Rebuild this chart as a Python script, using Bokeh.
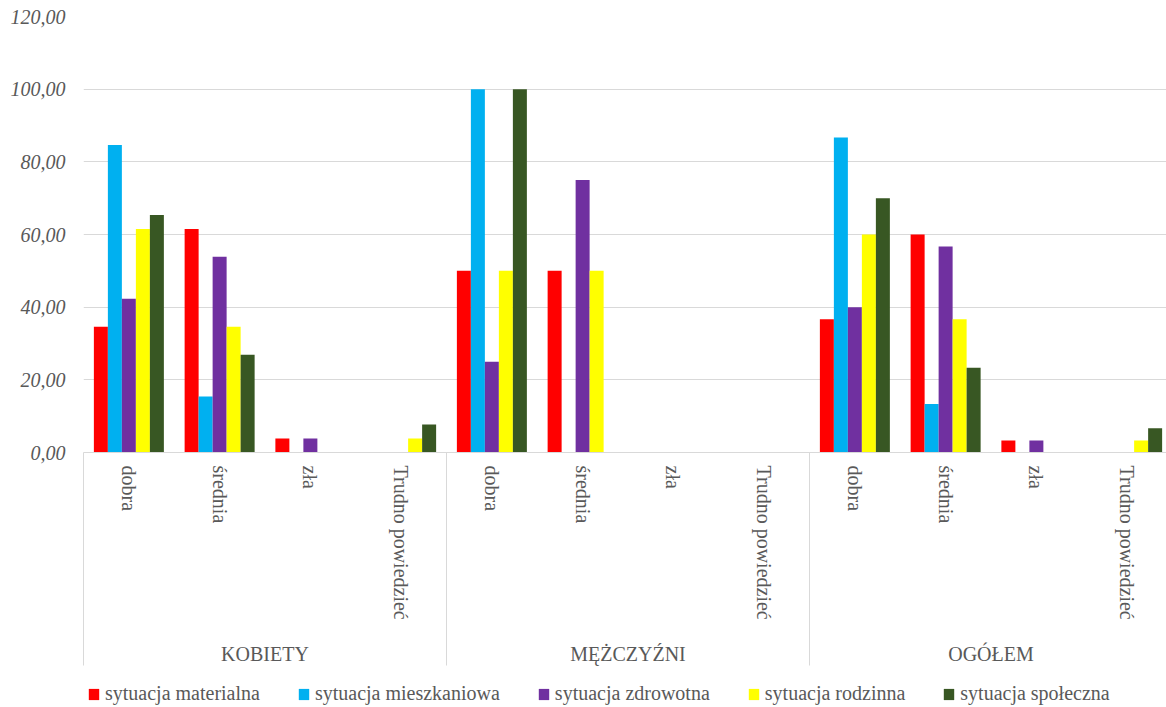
from bokeh.plotting import figure
from bokeh.models import (ColumnDataSource, Range1d, FixedTicker, LinearAxis,
                          Legend, LegendItem)
from bokeh.layouts import column
from bokeh.transform import dodge
from bokeh.embed import file_html
from bokeh.resources import INLINE

# ---------------- data ----------------
groups = ["KOBIETY", "MĘŻCZYŹNI", "OGÓŁEM"]
categories = ["dobra", "średnia", "zła", "Trudno powiedzieć"]
series_names = ["sytuacja materialna", "sytuacja mieszkaniowa", "sytuacja zdrowotna",
                "sytuacja rodzinna", "sytuacja społeczna"]
materialna = [34.62, 61.54, 3.85, 0.00, 50.00, 50.00, 0.00, 0.00, 36.67, 60.00, 3.33, 0.00]
mieszkaniowa = [84.62, 15.38, 0.00, 0.00, 100.00, 0.00, 0.00, 0.00, 86.67, 13.33, 0.00, 0.00]
zdrowotna = [42.31, 53.85, 3.85, 0.00, 25.00, 75.00, 0.00, 0.00, 40.00, 56.67, 3.33, 0.00]
rodzinna = [61.54, 34.62, 0.00, 3.85, 50.00, 50.00, 0.00, 0.00, 60.00, 36.67, 0.00, 3.33]
spoleczna = [65.38, 26.92, 0.00, 7.69, 100.00, 0.00, 0.00, 0.00, 70.00, 23.33, 0.00, 6.67]
y_ticks = [0, 20, 40, 60, 80, 100, 120]
y_tick_labels = ["0,00", "20,00", "40,00", "60,00", "80,00", "100,00", "120,00"]

# ---------------- styling ----------------
colors = ["#FF0000", "#00B0F0", "#7030A0", "#FFFF00", "#385723"]
FONT = "Liberation Serif"
TXT = "#595959"
GRID = "#d9d9d9"

n_cat = len(groups) * len(categories)
cat_labels = [c for g in groups for c in categories]
xs = list(range(1, n_cat + 1))

src = ColumnDataSource(dict(x=xs, s0=materialna, s1=mieszkaniowa, s2=zdrowotna,
                            s3=rodzinna, s4=spoleczna))

W = 1166
LEG_H = 34
H = 707 - LEG_H
LEFT, TOP = 83, 16
FRAME_H = 436
BOTTOM = H - TOP - FRAME_H
px_per_cat = 90.75
x_end = 0.5 + (W - LEFT) / px_per_cat
SEP_LEN = 213

p = figure(width=W, height=H, output_backend="svg", toolbar_location=None,
           x_range=Range1d(0.5, x_end), y_range=Range1d(0, 120),
           min_border_left=LEFT, min_border_right=0, min_border_top=TOP,
           min_border_bottom=BOTTOM,
           x_axis_location=None, y_axis_location=None)
p.outline_line_color = None
p.background_fill_color = "white"
p.border_fill_color = "white"

# y axis
yax = LinearAxis(ticker=FixedTicker(ticks=y_ticks))
yax.major_label_overrides = dict(zip(y_ticks, y_tick_labels))
yax.axis_line_color = None
yax.major_tick_line_color = None
yax.minor_tick_line_color = None
yax.major_tick_out = 0
yax.minor_tick_out = 0
yax.major_label_text_font = FONT
yax.major_label_text_font_style = "italic"
yax.major_label_text_font_size = "20px"
yax.major_label_text_color = TXT
yax.major_label_standoff = 18
p.add_layout(yax, "left")

p.xgrid.visible = False
p.ygrid.grid_line_color = GRID
p.ygrid.grid_line_width = 1
p.ygrid.ticker = FixedTicker(ticks=y_ticks)

# category axis (group separators drawn as long minor ticks)
sep = [0.5 + 4 * i for i in range(len(groups) + 1)]
cax = LinearAxis(ticker=FixedTicker(ticks=xs, minor_ticks=sep))
cax.major_label_overrides = dict(zip(xs, cat_labels))
cax.major_label_orientation = "vertical"
cax.major_tick_out = 0
cax.major_tick_in = 0
cax.minor_tick_in = 0
cax.minor_tick_out = SEP_LEN
cax.minor_tick_line_color = GRID
cax.axis_line_color = GRID
cax.major_label_text_font = FONT
cax.major_label_text_font_size = "20px"
cax.major_label_text_color = TXT
cax.major_label_standoff = 13 - SEP_LEN
p.add_layout(cax, "below")

# group axis
p.extra_x_ranges = {"grp": Range1d(0.5, (x_end + 1.5) / 4)}
gticks = list(range(1, len(groups) + 1))
gax = LinearAxis(x_range_name="grp", ticker=FixedTicker(ticks=gticks, minor_ticks=[]))
gax.major_label_overrides = dict(zip(gticks, groups))
gax.major_tick_out = 0
gax.major_tick_in = 0
gax.minor_tick_out = 0
gax.minor_tick_in = 0
gax.axis_line_color = None
gax.major_label_text_font = FONT
gax.major_label_text_font_size = "20px"
gax.major_label_text_color = TXT
gax.major_label_standoff = 20
p.add_layout(gax, "below")

# bars
bw = 14 / px_per_cat
for i, col in enumerate(colors):
    p.vbar(x=dodge("x", (i - 2) * bw, range=p.x_range), top="s%d" % i, width=bw,
           bottom=0, source=src, fill_color=col, line_color=None)

# legend strip (separate figure below the chart; its proxy bars lie outside its view)
pl = figure(width=W, height=LEG_H, output_backend="svg", toolbar_location=None,
            x_range=Range1d(-3, -2), y_range=Range1d(0, 1), min_border=0,
            x_axis_location=None, y_axis_location=None)
pl.outline_line_color = None
pl.xgrid.visible = False
pl.ygrid.visible = False
items = []
for i, (name, col) in enumerate(zip(series_names, colors)):
    r = pl.vbar(x="x", top="s%d" % i, width=bw, source=src,
                fill_color=col, line_color=None)
    items.append(LegendItem(label=name, renderers=[r]))
legend = Legend(items=items, orientation="horizontal", location=(4, 2))
legend.label_text_font = FONT
legend.label_text_font_size = "20px"
legend.label_text_color = TXT
legend.glyph_width = 13
legend.glyph_height = 14
legend.label_standoff = 5
legend.spacing = 37
legend.padding = 0
legend.margin = 0
legend.border_line_color = None
legend.background_fill_alpha = 0
pl.add_layout(legend)

layout = column(p, pl, spacing=0)
open("out.html", "w").write(file_html(layout, INLINE))
